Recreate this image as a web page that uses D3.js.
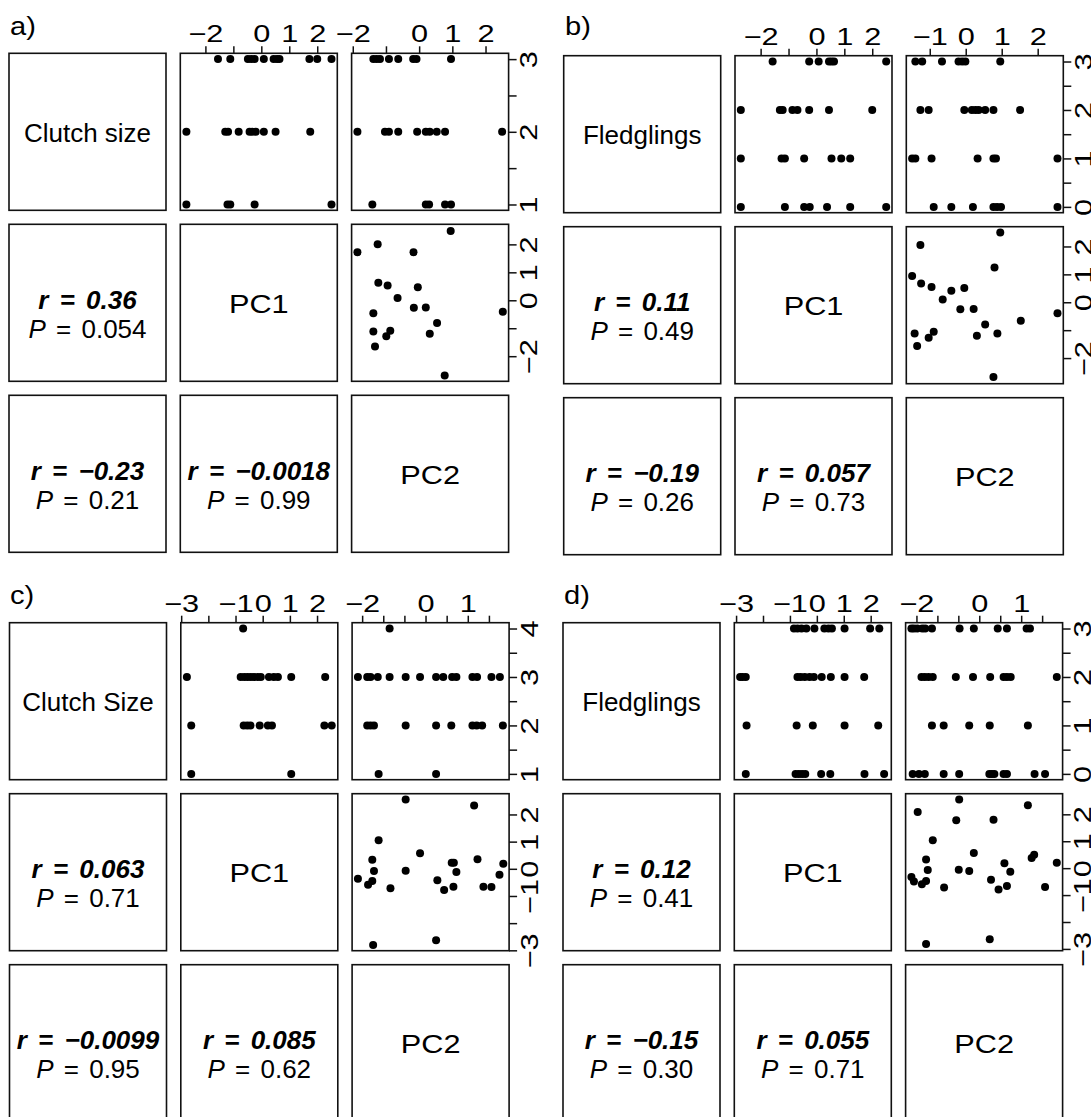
<!DOCTYPE html>
<html><head><meta charset="utf-8">
<script src="https://cdn.jsdelivr.net/npm/d3@7"></script>
<style>
body{margin:0;background:#fff;}
svg text{font-family:"Liberation Sans",Arial,Helvetica,sans-serif;fill:#000;white-space:pre;}
</style></head><body>
<svg id="chart" width="1091" height="1117"></svg>
<script>
// ---------------- DATA ----------------
const panelLetters = ["a)", "b)", "c)", "d)"];
const diagA = ["Clutch size", "PC1", "PC2"];
const diagB = ["Fledglings", "PC1", "PC2"];
const diagC = ["Clutch Size", "PC1", "PC2"];
const diagD = ["Fledglings", "PC1", "PC2"];

// lower-panel stats, cells (2,1), (3,1), (3,2)
const rA = ["0.36", "\u22120.23", "\u22120.0018"], pA = ["0.054", "0.21", "0.99"];
const rB = ["0.11", "\u22120.19", "0.057"],  pB = ["0.49", "0.26", "0.73"];
const rC = ["0.063", "\u22120.0099", "0.085"], pC = ["0.71", "0.95", "0.62"];
const rD = ["0.12", "\u22120.15", "0.055"],  pD = ["0.41", "0.30", "0.71"];

// tick values / labels
const ticksClutchA = [1, 1.5, 2, 2.5, 3], labelsClutchA = ["1", "", "2", "", "3"];
const ticksPC1A = [-2, -1, 0, 1, 2], labelsPC1A = ["\u22122", "", "0", "1", "2"];
const ticksPC2A = [-2, -1, 0, 1, 2], labelsPC2A = ["\u22122", "", "0", "1", "2"];
const ticksFledB = [0, 0.5, 1, 1.5, 2, 2.5, 3], labelsFledB = ["0", "", "1", "", "2", "", "3"];
const ticksPC1B = [-2, -1, 0, 1, 2], labelsPC1B = ["\u22122", "", "0", "1", "2"];
const ticksPC2B = [-1, 0, 1, 2], labelsPC2B = ["\u22121", "0", "1", "2"];
const ticksClutchC = [1, 1.5, 2, 2.5, 3, 3.5, 4], labelsClutchC = ["1", "", "2", "", "3", "", "4"];
const ticksPC1C = [-3, -2, -1, 0, 1, 2], labelsPC1C = ["\u22123", "", "\u22121", "0", "1", "2"];
const ticksPC2C = [-1.5, -1, -0.5, 0, 0.5, 1, 1.5], labelsPC2C = ["\u22122", "", "", "0", "", "1", ""];
const ticksFledD = [0, 0.5, 1, 1.5, 2, 2.5, 3], labelsFledD = ["0", "", "1", "", "2", "", "3"];
const ticksPC1D = [-3, -2, -1, 0, 1, 2], labelsPC1D = ["\u22123", "", "\u22121", "0", "1", "2"];
const ticksPC2D = [-1.5, -1, -0.5, 0, 0.5, 1, 1.5], labelsPC2D = ["\u22122", "", "", "0", "", "1", ""];

// scatter cells: [x, y]
// a) cell(1,2): PC1 vs Clutch size
const aPC1Clutch = [
  [-1.55,3],[-1.11,3],[-0.48,3],[-0.36,3],[-0.24,3],[0.09,3],[0.44,3],[0.56,3],[0.65,3],[1.72,3],[2.0,3],[2.51,3],
  [-2.68,2],[-1.29,2],[-1.19,2],[-0.81,2],[-0.42,2],[-0.32,2],[-0.20,2],[0.09,2],[0.51,2],[1.75,2],
  [-2.68,1],[-1.21,1],[-1.11,1],[-0.24,1],[2.51,1]];
// a) cell(1,3): PC2 vs Clutch size
const aPC2Clutch = [
  [-1.38,3],[-1.28,3],[-1.18,3],[-0.91,3],[-0.63,3],[-0.18,3],[-0.08,3],[0.96,3],
  [-1.86,2],[-1.03,2],[-0.91,2],[-0.63,2],[-0.06,2],[0.20,2],[0.32,2],[0.53,2],[0.78,2],[2.50,2],
  [-1.41,1],[0.20,1],[0.30,1],[0.78,1],[0.96,1]];
// a) cell(2,3): PC2 vs PC1
const aPC2PC1 = [
  [0.95,2.48],[-1.25,2.0],[-1.86,1.72],[-0.17,1.72],[-1.23,0.63],[-0.95,0.53],[-0.04,0.47],[-0.65,0.08],
  [-0.16,-0.27],[0.20,-0.26],[-1.38,-0.46],[2.52,-0.41],[0.54,-0.81],[-1.38,-1.12],[-0.87,-1.09],
  [-0.99,-1.29],[0.32,-1.20],[-1.33,-1.65],[0.77,-2.69]];

// b) cell(1,2): PC1 vs Fledglings
const bPC1Fled = [
  [-1.57,3],[-0.26,3],[0.08,3],[0.45,3],[0.54,3],[0.63,3],[2.50,3],
  [-2.71,2],[-1.31,2],[-1.21,2],[-0.86,2],[-0.68,2],[-0.26,2],[0.45,2],[2.0,2],
  [-2.71,1],[-1.25,1],[-1.13,1],[-0.44,1],[0.54,1],[0.89,1],[1.21,1],
  [-2.71,0],[-1.13,0],[-0.44,0],[-0.24,0],[0.38,0],[1.21,0],[2.50,0]];
// b) cell(1,3): PC2 vs Fledglings
const bPC2Fled = [
  [-1.40,3],[-1.21,3],[-0.66,3],[-0.20,3],[-0.10,3],[-0.01,3],[0.96,3],
  [-1.26,2],[-1.03,2],[-0.04,2],[0.17,2],[0.27,2],[0.36,2],[0.54,2],[0.77,2],[1.51,2],
  [-1.49,1],[-1.40,1],[-0.95,1],[0.33,1],[0.77,1],[0.84,1],[2.55,1],
  [-0.89,0],[-0.40,0],[0.20,0],[0.77,0],[0.87,0],[0.98,0],[2.55,0]];
// b) cell(2,3): PC2 vs PC1
const bPC2PC1 = [
  [0.96,2.50],[-1.26,2.05],[0.80,1.25],[-1.49,0.94],[-1.24,0.67],[-0.95,0.55],[-0.04,0.51],[-0.40,0.41],
  [-0.64,0.10],[-0.15,-0.25],[0.22,-0.24],[2.55,-0.39],[1.53,-0.66],[0.54,-0.80],[-1.42,-1.12],
  [-0.89,-1.06],[-1.03,-1.27],[0.31,-1.20],[0.88,-1.12],[-1.35,-1.57],[0.77,-2.68]];

// c) cell(1,2): PC1 vs Clutch Size
const cPC1Clutch = [
  [-0.72,4],
  [-2.79,3],[-0.81,3],[-0.68,3],[-0.56,3],[-0.44,3],[-0.32,3],[-0.19,3],[-0.07,3],[0.23,3],[0.41,3],[0.56,3],[1.05,3],[2.30,3],
  [-2.63,2],[-0.70,2],[-0.57,2],[-0.45,2],[-0.11,2],[0.19,2],[0.34,2],[2.27,2],[2.54,2],
  [-2.63,1],[1.05,1]];
// c) cell(1,3): PC2 vs Clutch Size
const cPC2Clutch = [
  [-0.85,4],
  [-1.60,3],[-1.38,3],[-1.30,3],[-1.13,3],[-0.85,3],[-0.47,3],[-0.13,3],[0.25,3],[0.42,3],[0.63,3],[0.73,3],[1.11,3],[1.22,3],[1.56,3],[1.76,3],
  [-1.38,2],[-1.30,2],[-1.22,2],[-0.47,2],[0.25,2],[0.61,2],[1.11,2],[1.21,2],[1.34,2],[1.83,2],
  [-1.11,1],[0.25,1]];
// c) cell(2,3): PC2 vs PC1
const cPC2PC1 = [
  [-0.47,2.55],[1.15,2.33],[-1.11,1.05],[-0.13,0.57],[-1.26,0.33],[1.23,0.35],[0.62,0.22],[0.67,0.22],
  [1.84,0.19],[-1.22,-0.08],[-0.47,-0.07],[0.73,-0.12],[-1.60,-0.37],[1.75,-0.22],[0.28,-0.42],
  [-1.26,-0.45],[-1.36,-0.59],[-0.83,-0.72],[0.44,-0.78],[0.66,-0.66],[1.37,-0.66],[1.56,-0.67],
  [0.25,-2.63],[-1.24,-2.80]];

// d) cell(1,2): PC1 vs Fledglings
const dPC1Fled = [
  [-0.85,3],[-0.72,3],[-0.57,3],[-0.39,3],[-0.09,3],[0.28,3],[0.43,3],[0.56,3],[1.03,3],[1.98,3],[2.32,3],
  [-2.85,2],[-2.76,2],[-2.64,2],[-0.72,2],[-0.60,2],[-0.45,2],[-0.27,2],[-0.11,2],[0.18,2],[0.52,2],[1.03,2],[1.76,2],
  [-2.61,1],[-0.75,1],[-0.15,1],[1.03,1],[2.28,1],
  [-2.64,0],[-0.79,0],[-0.67,0],[-0.55,0],[-0.43,0],[0.16,0],[0.50,0],[1.77,0],[2.50,0]];
// d) cell(1,3): PC2 vs Fledglings
const dPC2Fled = [
  [-1.62,3],[-1.56,3],[-1.48,3],[-1.36,3],[-1.29,3],[-1.13,3],[-0.47,3],[-0.13,3],[0.44,3],[0.66,3],[1.13,3],[1.21,3],
  [-1.38,2],[-1.30,2],[-1.21,2],[-1.11,2],[-0.56,2],[-0.15,2],[0.26,2],[0.58,2],[0.66,2],[0.75,2],[1.85,2],
  [-1.13,1],[-0.85,1],[-0.24,1],[0.25,1],[1.16,1],
  [-1.59,0],[-1.44,0],[-1.30,0],[-0.85,0],[-0.48,0],[0.24,0],[0.30,0],[0.36,0],[0.58,0],[0.66,0],[1.32,0],[1.57,0]];
// d) cell(2,3): PC2 vs PC1
const dPC2PC1 = [
  [-0.48,2.55],[1.16,2.34],[-1.47,2.09],[-0.55,1.78],[0.34,1.80],[-1.11,1.04],[-0.13,0.56],[-1.27,0.32],
  [1.31,0.50],[1.25,0.38],[0.60,0.18],[1.85,0.20],[-1.23,-0.07],[-0.49,-0.06],[-0.24,-0.11],[0.74,-0.13],
  [-1.62,-0.33],[-1.56,-0.50],[-1.37,-0.60],[-1.27,-0.48],[0.28,-0.43],[-0.84,-0.72],[0.46,-0.79],
  [0.66,-0.66],[1.57,-0.70],[0.25,-2.64],[-1.27,-2.82]];

// ---------------- LAYOUT ----------------
const SIZE = 157, PX = 171.3, PY = 171;
const TICK_STRETCH = 1.28, PC_STRETCH = 1.18;
const matrices = [
  {letter: panelLetters[0], x0: 9, y0: 53.3, lx: 10, ly: 35, diag: diagA, r: rA, p: pA,
   c12: aPC1Clutch, c13: aPC2Clutch, c23: aPC2PC1,
   ticks: [ticksClutchA, ticksPC1A, ticksPC2A], labels: [labelsClutchA, labelsPC1A, labelsPC2A]},
  {letter: panelLetters[1], x0: 563.7, y0: 55.7, lx: 565, ly: 35, diag: diagB, r: rB, p: pB,
   c12: bPC1Fled, c13: bPC2Fled, c23: bPC2PC1,
   ticks: [ticksFledB, ticksPC1B, ticksPC2B], labels: [labelsFledB, labelsPC1B, labelsPC2B]},
  {letter: panelLetters[2], x0: 9.5, y0: 622.7, lx: 10, ly: 604, diag: diagC, r: rC, p: pC,
   c12: cPC1Clutch, c13: cPC2Clutch, c23: cPC2PC1,
   ticks: [ticksClutchC, ticksPC1C, ticksPC2C], labels: [labelsClutchC, labelsPC1C, labelsPC2C]},
  {letter: panelLetters[3], x0: 563, y0: 622.7, lx: 564, ly: 604, diag: diagD, r: rD, p: pD,
   c12: dPC1Fled, c13: dPC2Fled, c23: dPC2PC1,
   ticks: [ticksFledD, ticksPC1D, ticksPC2D], labels: [labelsFledD, labelsPC1D, labelsPC2D]}
];

const svg = d3.select("#chart");
const INK = "#111";

function pad(e) { const r = e[1] - e[0]; return [e[0] - 0.04 * r, e[1] + 0.04 * r]; }

function drawMatrix(m) {
  const g = svg.append("g");
  const lefts = [0, 1, 2].map(i => m.x0 + i * PX);
  const tops = [0, 1, 2].map(i => m.y0 + i * PY);
  const ext = [
    d3.extent([...m.c12.map(d => d[1]), ...m.c13.map(d => d[1])]),
    d3.extent([...m.c12.map(d => d[0]), ...m.c23.map(d => d[1])]),
    d3.extent([...m.c13.map(d => d[0]), ...m.c23.map(d => d[0])])
  ];
  const xs = ext.map((e, j) => d3.scaleLinear().domain(pad(e)).range([lefts[j], lefts[j] + SIZE]));
  const ys = ext.map((e, i) => d3.scaleLinear().domain(pad(e)).range([tops[i] + SIZE, tops[i]]));

  // panel letter
  g.append("text").attr("transform", `translate(${m.lx},${m.ly}) scale(1.12,1)`)
    .attr("font-size", 26).text(m.letter);

  // boxes
  for (let i = 0; i < 3; i++) for (let j = 0; j < 3; j++) {
    g.append("rect").attr("x", lefts[j]).attr("y", tops[i]).attr("width", SIZE).attr("height", SIZE)
      .attr("fill", "none").attr("stroke", INK).attr("stroke-width", 1.6);
  }

  // points
  const cells = [
    {data: m.c12, xs: xs[1], ys: ys[0]},
    {data: m.c13, xs: xs[2], ys: ys[0]},
    {data: m.c23, xs: xs[2], ys: ys[1]}
  ];
  cells.forEach(c => {
    g.append("g").selectAll("circle").data(c.data).join("circle")
      .attr("cx", d => c.xs(d[0])).attr("cy", d => c.ys(d[1])).attr("r", 4).attr("fill", "#000");
  });

  // diagonal labels
  m.diag.forEach((t, k) => {
    const s = k === 0 ? 1 : PC_STRETCH;
    g.append("text")
      .attr("transform", `translate(${lefts[k] + SIZE / 2},${tops[k] + SIZE / 2 + 10}) scale(${s},1)`)
      .attr("text-anchor", "middle").attr("font-size", 26).text(t);
  });

  // stats
  const statCells = [[1, 0], [2, 0], [2, 1]];
  statCells.forEach(([i, j], k) => {
    const cx = lefts[j] + SIZE / 2, cy = tops[i] + SIZE / 2;
    g.append("text").attr("x", cx).attr("y", cy + 6).attr("text-anchor", "middle")
      .attr("font-size", 26).attr("font-weight", "bold").attr("font-style", "italic")
      .attr("word-spacing", "4px").text("r = " + m.r[k]);
    const pt = g.append("text").attr("x", cx).attr("y", cy + 35).attr("text-anchor", "middle")
      .attr("font-size", 26).attr("word-spacing", "3px");
    pt.append("tspan").attr("font-style", "italic").text("P");
    pt.append("tspan").text(" = " + m.p[k]);
  });

  // top axes (cols 2,3)
  [1, 2].forEach(j => {
    const ax = g.append("g").attr("transform", `translate(0,${tops[0]})`)
      .call(d3.axisTop(xs[j]).tickValues(m.ticks[j]).tickFormat((d, k) => m.labels[j][k])
        .tickSize(7).tickPadding(4).tickSizeOuter(0));
    ax.select(".domain").remove();
    ax.attr("font-size", 24).attr("font-family", null);
    ax.selectAll("line").attr("stroke", INK).attr("stroke-width", 1.5);
    ax.selectAll("text").attr("transform", `scale(${TICK_STRETCH},1)`);
  });
  // right axes (rows 1,2)
  [0, 1].forEach(i => {
    const ax = g.append("g").attr("transform", `translate(${lefts[2] + SIZE},0)`)
      .call(d3.axisRight(ys[i]).tickValues(m.ticks[i]).tickFormat((d, k) => m.labels[i][k])
        .tickSize(8).tickSizeOuter(0));
    ax.select(".domain").remove();
    ax.attr("font-size", 24).attr("font-family", null);
    ax.selectAll("line").attr("stroke", INK).attr("stroke-width", 1.5);
    ax.selectAll("text").attr("x", 0).attr("dy", null).attr("text-anchor", "middle")
      .attr("transform", `translate(28.5,0) rotate(-90) scale(${TICK_STRETCH},1)`);
  });
}

matrices.forEach(drawMatrix);
</script>
</body></html>
